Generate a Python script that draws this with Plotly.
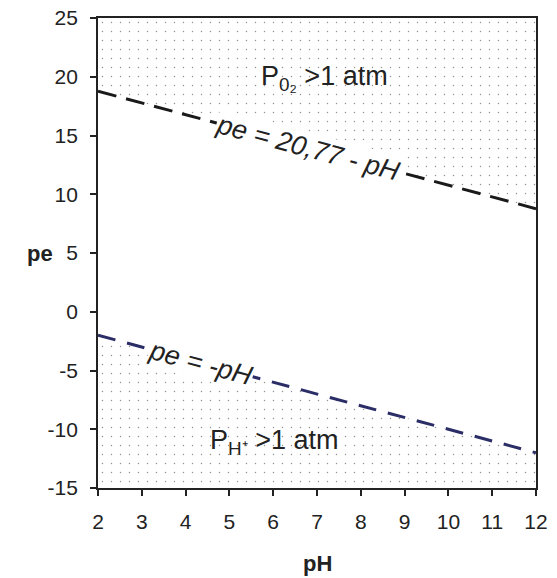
import plotly.graph_objects as go

ph = [2, 12]
pe_upper = [20.77 - v for v in ph]   # pe = 20,77 - pH
pe_lower = [-v for v in ph]          # pe = -pH
y_top, y_bottom = 25, -15
x_ticks = list(range(2, 13))
y_ticks = list(range(-15, 26, 5))
y_ticktext = [str(v) for v in y_ticks]

dots = dict(shape=".", size=9, solidity=0.02, fgcolor="#222222", bgcolor="white")

fig = go.Figure()
fig.add_trace(go.Scatter(
    x=ph + ph[::-1], y=pe_upper + [y_top, y_top], fill="toself",
    fillpattern=dots, line=dict(width=0, color="rgba(0,0,0,0)"), mode="lines",
    hoverinfo="skip"))
fig.add_trace(go.Scatter(
    x=ph + ph[::-1], y=pe_lower + [y_bottom, y_bottom], fill="toself",
    fillpattern=dots, line=dict(width=0, color="rgba(0,0,0,0)"), mode="lines",
    hoverinfo="skip"))
fig.add_trace(go.Scatter(x=ph, y=pe_upper, mode="lines",
                         line=dict(color="#1a1a1a", width=3, dash="19px,10px")))
fig.add_trace(go.Scatter(x=ph, y=pe_lower, mode="lines",
                         line=dict(color="#2b2d66", width=3, dash="18px,12px")))

font = "Liberation Sans, Arial, sans-serif"
ann_font = dict(family=font, size=27, color="#222222")
fig.add_annotation(x=6.8, y=20.77 - 6.8, text="pe = 20,77 - pH", showarrow=False,
                   textangle=15, font=dict(ann_font, style="italic"), bgcolor="white",
                   borderpad=0)
fig.add_annotation(x=4.35, y=-4.35, text="pe = -pH", showarrow=False,
                   textangle=15, font=dict(ann_font, style="italic"), bgcolor="white",
                   borderpad=0)
fig.add_annotation(x=7.18, y=19.9, text="P<sub>0₂</sub> >1 atm", showarrow=False,
                   font=ann_font)
fig.add_annotation(x=6.02, y=-11.1, text="P<sub>H⁺</sub> >1 atm", showarrow=False,
                   font=ann_font)
fig.add_annotation(xref="paper", yref="paper", x=-0.132, y=0.5, text="<b>pe</b>",
                   xanchor="center", yanchor="middle", showarrow=False,
                   font=dict(family=font, size=22, color="#222222"))
fig.add_annotation(xref="paper", yref="paper", x=0.502, y=-0.16, xanchor="center",
                   yanchor="middle", text="<b>pH</b>", showarrow=False,
                   font=dict(family=font, size=22, color="#222222"))

axis_common = dict(showgrid=False, zeroline=False, showline=True, linecolor="#222222",
                   linewidth=1.8, mirror=True, ticks="outside", ticklen=6,
                   tickwidth=1.5, tickcolor="#222222", automargin=False,
                   ticklabeloverflow="allow",
                   tickfont=dict(family=font, size=21, color="#222222"))
fig.update_xaxes(range=[2, 12], tickvals=x_ticks, ticklabelstandoff=8, **axis_common)
fig.update_yaxes(range=[y_bottom, y_top], tickvals=y_ticks, ticktext=y_ticktext,
                 ticklabelstandoff=8, **axis_common)
fig.update_layout(width=557, height=578, showlegend=False, hovermode=False,
                  margin=dict(l=98, r=21, t=18, b=90, autoexpand=False),
                  plot_bgcolor="white", paper_bgcolor="white")
# remove the default page margin so the figure fills the window exactly
fig.write_html("out.html", config={"displayModeBar": False},
               post_script="document.body.style.margin='0';"
                           "document.body.style.overflow='hidden';")
